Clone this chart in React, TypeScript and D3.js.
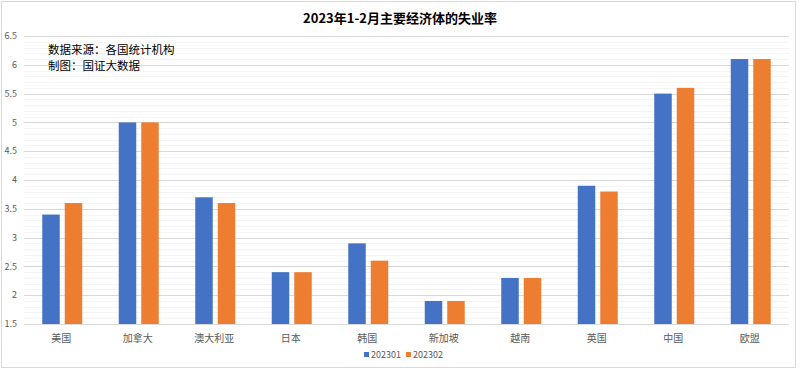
import React from "react";
import * as d3 from "d3";

const categories = ["美国", "加拿大", "澳大利亚", "日本", "韩国", "新加坡", "越南", "英国", "中国", "欧盟"];
const seriesNames = ["202301", "202302"];
const values202301 = [3.4, 5.0, 3.7, 2.4, 2.9, 1.9, 2.3, 3.9, 5.5, 6.1];
const values202302 = [3.6, 5.0, 3.6, 2.4, 2.6, 1.9, 2.3, 3.8, 5.6, 6.1];
const yTicks = [1.5, 2, 2.5, 3, 3.5, 4, 4.5, 5, 5.5, 6, 6.5];
const colors = ["#4472C4", "#ED7D31"];

const W = 800;
const H = 370;
const FONT = "'Noto Sans CJK SC', 'Noto Sans', sans-serif";

export default function App() {
  const left = 24;
  const right = 789;
  const top = 36;
  const bottom = 324;

  const x = d3.scaleBand<string>().domain(categories).range([left, right]).paddingInner(0).paddingOuter(0);
  const y = d3.scaleLinear().domain([1.5, 6.5]).range([bottom, top]);
  const minorTicks = d3.range(15, 66).map((v) => v / 10);
  const barW = 17.5;
  const gap = 5;

  const series = [values202301, values202302];

  return (
    <div style={{ position: "fixed", left: 0, top: 0 }}>
      <svg width={W} height={H} style={{ display: "block", background: "#fff" }}>
        <rect x={1.5} y={1.5} width={794} height={366} fill="#fff" stroke="#d9d9d9" strokeWidth={1} />
        {minorTicks.map((t) => (
          <line key={"m" + t} x1={left} x2={right} y1={Math.round(y(t)) + 0.5} y2={Math.round(y(t)) + 0.5} stroke="#f4f4f4" strokeWidth={1} />
        ))}
        {yTicks.map((t) => (
          <g key={"t" + t}>
            <line x1={left} x2={right} y1={Math.round(y(t)) + 0.5} y2={Math.round(y(t)) + 0.5} stroke="#d9d9d9" strokeWidth={1} />
            <text x={17} y={y(t)} dy="0.35em" textAnchor="end" fontSize={9} fill="#595959" fontFamily={FONT}>
              {String(t)}
            </text>
          </g>
        ))}
        {categories.map((c, i) => {
          const cx = (x(c) as number) + x.bandwidth() / 2;
          return (
            <g key={c}>
              {series.map((s, j) => {
                const bx = j === 0 ? cx - gap / 2 - barW : cx + gap / 2;
                return (
                  <rect key={j} x={bx} y={y(s[i])} width={barW} height={y(1.5) - y(s[i])} fill={colors[j]} />
                );
              })}
              <text x={cx - 1} y={338} dy="0.35em" textAnchor="middle" fontSize={10} fill="#595959" fontFamily={FONT}>
                {c}
              </text>
            </g>
          );
        })}
        <text x={400} y={18} dy="0.35em" textAnchor="middle" fontSize={13} fontWeight="bold" fill="#000" fontFamily={FONT}>
          2023年1-2月主要经济体的失业率
        </text>
        <text x={48} y={49.5} dy="0.35em" fontSize={11.5} fill="#000" fontFamily={FONT}>
          数据来源：各国统计机构
        </text>
        <text x={48} y={65.5} dy="0.35em" fontSize={11.5} fill="#000" fontFamily={FONT}>
          制图：国证大数据
        </text>
        {seriesNames.map((n, j) => {
          const lx = 364 + j * 42;
          return (
            <g key={n}>
              <rect x={lx} y={352} width={5} height={5} fill={colors[j]} />
              <text x={lx + 7} y={355} dy="0.35em" fontSize={9} fill="#595959" fontFamily={FONT}>
                {n}
              </text>
            </g>
          );
        })}
      </svg>
    </div>
  );
}
